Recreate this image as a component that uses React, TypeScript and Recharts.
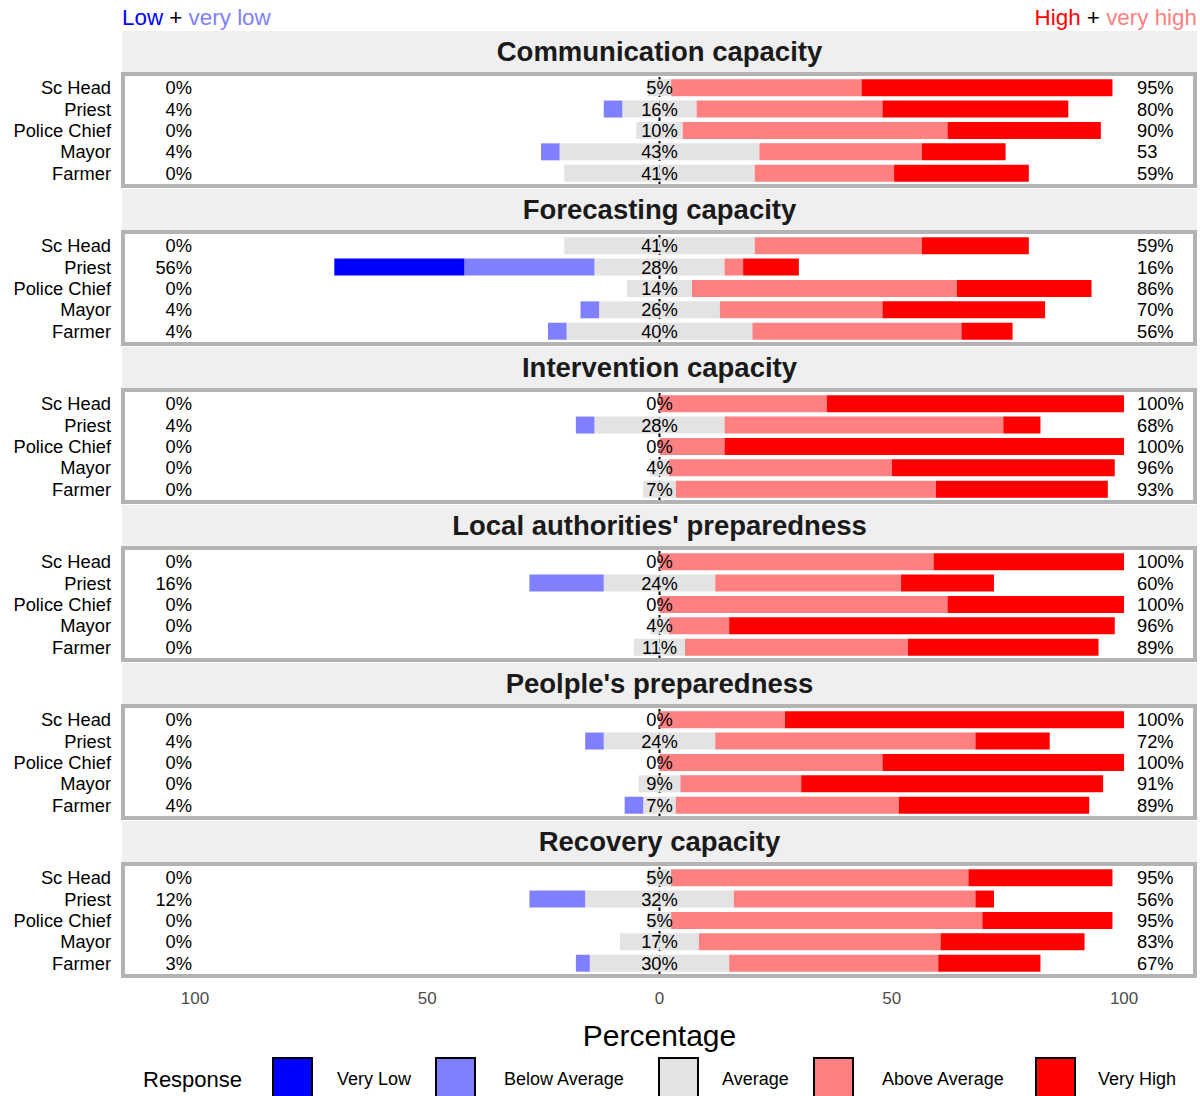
import React from 'react';
import { BarChart, Bar, XAxis, YAxis, CartesianGrid } from 'recharts';

const FONT = '"Liberation Sans", Arial, Helvetica, sans-serif';

const roles = ['Sc Head', 'Priest', 'Police Chief', 'Mayor', 'Farmer'];

const facets = [
  'Communication capacity',
  'Forecasting capacity',
  'Intervention capacity',
  "Local authorities' preparedness",
  "Peolple's preparedness",
  'Recovery capacity',
];

// one inner array per facet, in the order of roles
const veryLow = [
  [0, 0, 0, 0, 0],
  [0, 28, 0, 0, 0],
  [0, 0, 0, 0, 0],
  [0, 0, 0, 0, 0],
  [0, 0, 0, 0, 0],
  [0, 0, 0, 0, 0],
];

const belowAverage = [
  [0, 4, 0, 4, 0],
  [0, 28, 0, 4, 4],
  [0, 4, 0, 0, 0],
  [0, 16, 0, 0, 0],
  [0, 4, 0, 0, 4],
  [0, 12, 0, 0, 3],
];

const average = [
  [5, 16, 10, 43, 41],
  [41, 28, 14, 26, 40],
  [0, 28, 0, 4, 7],
  [0, 24, 0, 4, 11],
  [0, 24, 0, 9, 7],
  [5, 32, 5, 17, 30],
];

const aboveAverage = [
  [41, 40, 57, 35, 30],
  [36, 4, 57, 35, 45],
  [36, 60, 14, 48, 56],
  [59, 40, 62, 13, 48],
  [27, 56, 48, 26, 48],
  [64, 52, 67, 52, 45],
];

const veryHigh = [
  [54, 40, 33, 18, 29],
  [23, 12, 29, 35, 11],
  [64, 8, 86, 48, 37],
  [41, 20, 38, 83, 41],
  [73, 16, 52, 65, 41],
  [31, 4, 28, 31, 22],
];

const lowLabels = [
  ['0%', '4%', '0%', '4%', '0%'],
  ['0%', '56%', '0%', '4%', '4%'],
  ['0%', '4%', '0%', '0%', '0%'],
  ['0%', '16%', '0%', '0%', '0%'],
  ['0%', '4%', '0%', '0%', '4%'],
  ['0%', '12%', '0%', '0%', '3%'],
];

const highLabels = [
  ['95%', '80%', '90%', '53', '59%'],
  ['59%', '16%', '86%', '70%', '56%'],
  ['100%', '68%', '100%', '96%', '93%'],
  ['100%', '60%', '100%', '96%', '89%'],
  ['100%', '72%', '100%', '91%', '89%'],
  ['95%', '56%', '95%', '83%', '67%'],
];

const xTicks = [-100, -50, 0, 50, 100];

const COLORS = {
  veryLow: '#0000ff',
  below: '#8080ff',
  average: '#e3e3e3',
  above: '#ff8080',
  veryHigh: '#ff0000',
};

const legendItems = [
  { name: 'Very Low', color: COLORS.veryLow, box: 272, text: 337 },
  { name: 'Below Average', color: COLORS.below, box: 435, text: 504 },
  { name: 'Average', color: COLORS.average, box: 658, text: 722 },
  { name: 'Above Average', color: COLORS.above, box: 813, text: 882 },
  { name: 'Very High', color: COLORS.veryHigh, box: 1035, text: 1098 },
];

// row name, low share (left), neutral share (at 0) and high share (right)
function RowTick(props: any) {
  const { x, y, payload, index, lows, mids, highs } = props;
  return (
    <g fontFamily={FONT} fontSize={18.3} fill="#000">
      <text x={x} y={y} dy="0.36em" textAnchor="end">
        {payload.value}
      </text>
      <text x={x + 81} y={y} dy="0.36em" textAnchor="end">
        {lows[index]}
      </text>
      <text x={x + 548.5} y={y} dy="0.36em" textAnchor="middle">
        {mids[index]}
      </text>
      <text x={x + 1026} y={y} dy="0.36em" textAnchor="start">
        {highs[index]}
      </text>
    </g>
  );
}

// dashed line at 0, drawn under the bars
const zeroLine = (p: any) => {
  const scale = p?.xAxis?.scale;
  if (typeof scale === 'function') return [scale(0)];
  return [p.offset.left + p.offset.width / 2];
};

function Facet({ idx }: { idx: number }) {
  const rows = roles.map((role, i) => ({
    role,
    avgNeg: -average[idx][i] / 2,
    below: -belowAverage[idx][i],
    veryLow: -veryLow[idx][i],
    avgPos: average[idx][i] / 2,
    above: aboveAverage[idx][i],
    veryHigh: veryHigh[idx][i],
  }));
  const mids = average[idx].map((v) => `${v}%`);
  const last = idx === facets.length - 1;

  return (
    <BarChart
      layout="vertical"
      width={1200}
      height={last ? 152 : 116}
      data={rows}
      stackOffset="sign"
      barCategoryGap="10%"
      margin={{ top: 5, right: 3, bottom: last ? 0 : 4, left: 0 }}
    >
      <CartesianGrid
        horizontal={false}
        verticalCoordinatesGenerator={zeroLine}
        stroke="#000"
        strokeWidth={2}
        strokeDasharray="4 4"
      />
      <XAxis
        type="number"
        domain={[-115.7, 115.7]}
        ticks={xTicks}
        tickFormatter={(v: number) => String(Math.abs(v))}
        hide={!last}
        height={40}
        axisLine={false}
        tickLine={false}
        tickMargin={12}
        tick={{ fill: '#4d4d4d', fontSize: 17, fontFamily: FONT }}
      />
      <YAxis
        type="category"
        dataKey="role"
        width={122}
        axisLine={false}
        tickLine={false}
        tickMargin={5}
        interval={0}
        tick={(p: any) => (
          <RowTick {...p} lows={lowLabels[idx]} mids={mids} highs={highLabels[idx]} />
        )}
      />
      <Bar dataKey="avgNeg" stackId="s" fill={COLORS.average} isAnimationActive={false} />
      <Bar dataKey="below" stackId="s" fill={COLORS.below} isAnimationActive={false} />
      <Bar dataKey="veryLow" stackId="s" fill={COLORS.veryLow} isAnimationActive={false} />
      <Bar dataKey="avgPos" stackId="s" fill={COLORS.average} isAnimationActive={false} />
      <Bar dataKey="above" stackId="s" fill={COLORS.above} isAnimationActive={false} />
      <Bar dataKey="veryHigh" stackId="s" fill={COLORS.veryHigh} isAnimationActive={false} />
    </BarChart>
  );
}

export default function App() {
  return (
    <div
      style={{
        position: 'absolute',
        left: 0,
        top: 0,
        width: 1200,
        height: 1096,
        overflow: 'hidden',
        background: '#fff',
        fontFamily: FONT,
        color: '#000',
      }}
    >
      <div style={{ position: 'absolute', left: 122, top: 6, fontSize: 22.4, lineHeight: '24px' }}>
        <span style={{ color: '#0000ff' }}>Low</span>
        <span> + </span>
        <span style={{ color: '#8080ff' }}>very low</span>
      </div>
      <div style={{ position: 'absolute', right: 3, top: 6, fontSize: 22.4, lineHeight: '24px' }}>
        <span style={{ color: '#ff0000' }}>High</span>
        <span> + </span>
        <span style={{ color: '#ff8080' }}>very high</span>
      </div>

      {facets.map((name, i) => (
        <React.Fragment key={name}>
          <div
            style={{
              position: 'absolute',
              left: 122,
              top: 31 + 158 * i,
              width: 1075,
              height: 41,
              background: '#efefef',
              display: 'flex',
              alignItems: 'center',
              justifyContent: 'center',
              fontWeight: 'bold',
              fontSize: 27.5,
              color: '#1a1a1a',
            }}
          >
            {name}
          </div>
          <div style={{ position: 'absolute', left: 0, top: 72 + 158 * i }}>
            <Facet idx={i} />
          </div>
          <div
            style={{
              position: 'absolute',
              left: 121,
              top: 72 + 158 * i,
              width: 1076,
              height: 116,
              border: '4px solid #b3b3b3',
              boxSizing: 'border-box',
              pointerEvents: 'none',
            }}
          />
        </React.Fragment>
      ))}

      <div
        style={{
          position: 'absolute',
          left: 122,
          width: 1075,
          top: 1019,
          textAlign: 'center',
          fontSize: 30,
          lineHeight: '34px',
        }}
      >
        Percentage
      </div>

      <div style={{ position: 'absolute', left: 143, top: 1067, fontSize: 22, lineHeight: '26px' }}>Response</div>
      {legendItems.map((it) => (
        <React.Fragment key={it.name}>
          <div
            style={{
              position: 'absolute',
              left: it.box,
              top: 1057,
              width: 41,
              height: 48,
              background: it.color,
              border: '2px solid #000',
              boxSizing: 'border-box',
            }}
          />
          <div style={{ position: 'absolute', left: it.text, top: 1068, fontSize: 18, lineHeight: '22px' }}>
            {it.name}
          </div>
        </React.Fragment>
      ))}
    </div>
  );
}
